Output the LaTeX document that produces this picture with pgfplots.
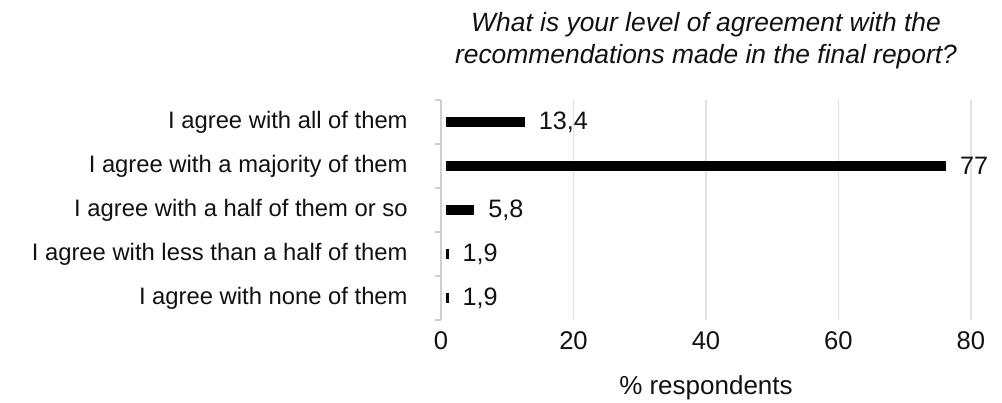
\documentclass[border=0pt]{standalone}
\usepackage{fontspec}
\setmainfont{Liberation Sans}
\usepackage{pgfplots}
\pgfplotsset{compat=1.18}
\definecolor{gridc}{HTML}{E2E2E2}
\definecolor{axc}{HTML}{CFCFCF}
\definecolor{txt}{HTML}{111111}
\pgfplotsset{
  mybar/.style={xcomb, line width=4.6pt, black, shorten <=2.5pt, shorten >=2.5pt,
    point meta=x, nodes near coords,
    nodes near coords style={anchor=west, inner sep=0pt, xshift=2.2pt, text=txt,
      font=\fontsize{12.6}{14}\selectfont}},
}
\begin{document}
\begin{tikzpicture}
\begin{axis}[
  at={(220.5pt,41pt)}, anchor=south west,
  scale only axis, width=265pt, height=110pt,
  xmin=0, xmax=80, ymin=-0.5, ymax=4.5, y dir=reverse,
  axis line style={draw=none},
  xtick={0,20,40,60,80}, xmajorgrids,
  grid style={gridc, line width=0.6pt},
  major x tick style={draw=none},
  ytick={0,1,2,3,4},
  yticklabels={I agree with all of them, I agree with a majority of them, I agree with a half of them or so, I agree with less than a half of them, I agree with none of them},
  minor ytick={-0.5,0.5,1.5,2.5,3.5,4.5},
  major y tick style={draw=none},
  minor y tick style={axc, line width=0.6pt},
  minor tick length=3pt, major tick length=0pt,
  tick align=outside,
  ytick pos=left, xtick pos=bottom,
  /pgf/number format/assume math mode=true,
  /pgf/number format/use comma,
  /pgf/number format/1000 sep={},
  yticklabel style={anchor=east, inner sep=0pt, xshift=-16.5pt, text=txt, font=\fontsize{11.9}{14}\selectfont},
  xticklabel style={anchor=base, inner sep=0pt, yshift=-14.5pt, text=txt, font=\fontsize{12.8}{14}\selectfont},
  xlabel={\% respondents},
  x label style={at={(axis description cs:0.5,0)}, anchor=base, inner sep=0pt, yshift=-37pt, text=txt, font=\fontsize{13}{15}\selectfont},
  clip=false,
]
\draw[axc, line width=0.6pt] (rel axis cs:0,0) -- (rel axis cs:0,1);
\addplot[mybar] coordinates {(13.4,0)};
\addplot[mybar] coordinates {(77,1)};
\addplot[mybar] coordinates {(5.8,2)};
\addplot[mybar] coordinates {(1.9,3)};
\addplot[mybar] coordinates {(1.9,4)};
\end{axis}
\node[anchor=base, inner sep=0pt, text=txt, font=\fontsize{13.2}{15}\selectfont\itshape] at (353pt,185pt) {What is your level of agreement with the};
\node[anchor=base, inner sep=0pt, text=txt, font=\fontsize{13.2}{15}\selectfont\itshape] at (353pt,169pt) {recommendations made in the final report?};
\pgfresetboundingbox
\useasboundingbox (0,0) rectangle (501pt,201pt);
\end{tikzpicture}
\end{document}
